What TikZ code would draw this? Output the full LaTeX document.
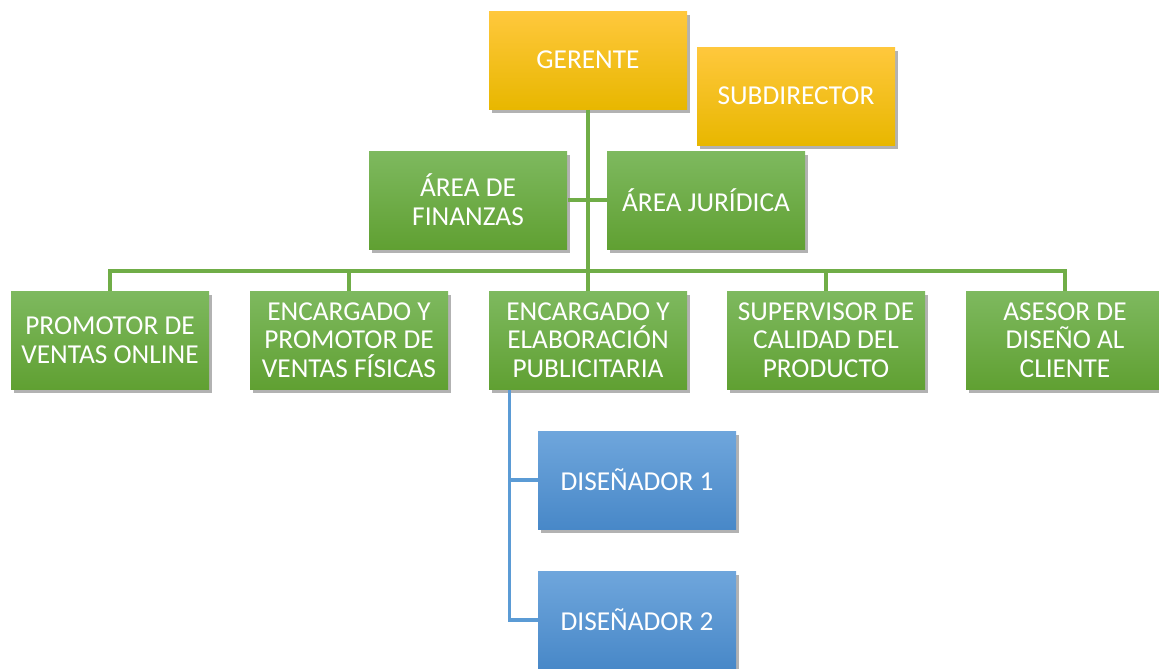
\documentclass[tikz,border=0pt]{standalone}
\usepackage{fontspec}
\setmainfont{Carlito}
\usetikzlibrary{shadows}

\definecolor{goldtop}{RGB}{255,200,61}
\definecolor{goldmid}{RGB}{255,192,0}
\definecolor{goldbot}{RGB}{232,183,0}
\definecolor{greentop}{RGB}{126,185,95}
\definecolor{greenmid}{RGB}{108,174,68}
\definecolor{greenbot}{RGB}{96,160,50}
\definecolor{bluetop}{RGB}{111,166,220}
\definecolor{bluemid}{RGB}{84,150,214}
\definecolor{bluebot}{RGB}{72,136,200}
\definecolor{gline}{RGB}{112,173,71}
\definecolor{bline}{RGB}{91,155,213}

\tikzset{every picture/.style={line width=0.75pt}}
\tikzset{
  orgbox/.style={minimum width=148.5pt, minimum height=73.5pt, inner sep=2pt,
    align=center, text=white, font=\fontsize{20.5}{21.5}\selectfont,
    drop shadow={shadow xshift=2pt, shadow yshift=-3pt, opacity=0.3, fill=black}},
  goldbox/.style={orgbox, top color=goldtop, middle color=goldmid, bottom color=goldbot},
  greenbox/.style={orgbox, top color=greentop, middle color=greenmid, bottom color=greenbot},
  bluebox/.style={orgbox, top color=bluetop, middle color=bluemid, bottom color=bluebot},
  greenlink/.style={draw=gline, line width=2.3pt},
  bluelink/.style={draw=bline, line width=2.3pt}
}

\begin{document}
\begin{tikzpicture}[x=0.75pt,y=0.75pt,yscale=-1,xscale=1]
\useasboundingbox (0,0) rectangle (1159,668);

%Shape: top level
\node [goldbox] (ger) at (588,60) {GERENTE};
\node [goldbox] (sub) at (796,96) {SUBDIRECTOR};

%Shape: assistants
\node [greenbox] (fin) at (468,200) {ÁREA DE\\FINANZAS};
\node [greenbox] (jur) at (706,200) {ÁREA JURÍDICA};

%Shape: second level
\node [greenbox] (p1) at (110,340) {PROMOTOR DE\\VENTAS ONLINE};
\node [greenbox] (p2) at (349,340) {ENCARGADO Y\\PROMOTOR DE\\VENTAS FÍSICAS};
\node [greenbox] (p3) at (588,340) {ENCARGADO Y\\ELABORACIÓN\\PUBLICITARIA};
\node [greenbox] (p4) at (826,340) {SUPERVISOR DE\\CALIDAD DEL\\PRODUCTO};
\node [greenbox] (p5) at (1065,340) {ASESOR DE\\DISEÑO AL\\CLIENTE};

%Shape: third level
\node [bluebox] (d1) at (637,480) {DISEÑADOR 1};
\node [bluebox] (d2) at (637,620) {DISEÑADOR 2};

%Straight Lines: green tree
\coordinate (bus) at (588,271);
\draw [greenlink] (ger.south) -- (bus);
\draw [greenlink] (fin.east) -- (jur.west);
\foreach \n in {p1,p2,p3,p4,p5}
  \draw [greenlink] (bus) -| (\n.north);

%Straight Lines: blue tree
\coordinate (dtop) at ([xshift=15.75pt]p3.south west);
\draw [bluelink] (dtop) |- (d1.west);
\draw [bluelink] (dtop) |- (d2.west);

\end{tikzpicture}
\end{document}
